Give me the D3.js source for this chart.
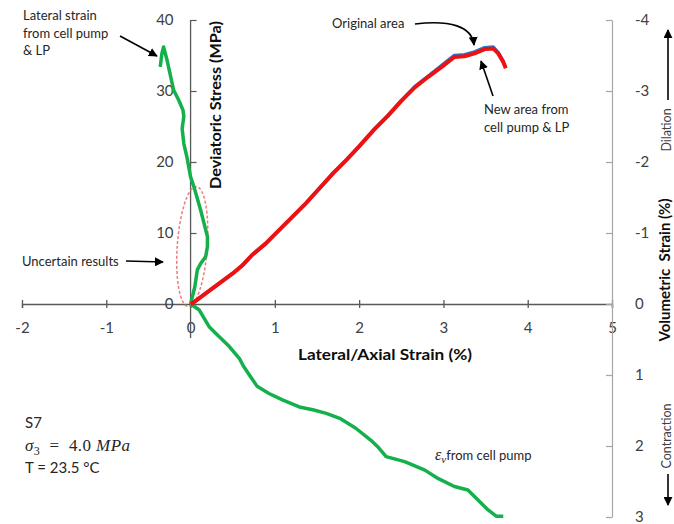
<!DOCTYPE html>
<html>
<head>
<meta charset="utf-8">
<script src="https://cdn.jsdelivr.net/npm/d3@7"></script>
<style>
  html, body { margin: 0; padding: 0; background: #fff; }
  svg { display: block; font-family: Lato, "Open Sans", sans-serif; }
  .tick text { font-family: Lato, sans-serif; font-size: 15px; fill: #404040; }
  .ann { font-size: 13px; fill: #262626; }
</style>
</head>
<body>
<svg id="chart" width="674" height="524"></svg>
<script>
// Triaxial test S7: deviatoric stress vs lateral / axial strain, with volumetric strain
const xTicks = [-2, -1, 0, 1, 2, 3, 4, 5];
const stressTicks = [0, 10, 20, 30, 40];
const volTicks = [-4, -3, -2, -1, 0, 1, 2, 3];

// Axial strain (%) and deviatoric stress (MPa), new area from cell pump & LP
const axialNew  = [0, 0.02, 0.18, 0.34, 0.50, 0.62, 0.73, 0.89, 1.05, 1.21, 1.37, 1.53, 1.69, 1.85, 2.00, 2.18, 2.34, 2.50, 2.66, 2.82, 2.98, 3.13, 3.25, 3.37, 3.49, 3.59, 3.65, 3.71, 3.74];
const stressNew = [0, 0.1, 1.5, 2.9, 4.3, 5.5, 6.9, 8.5, 10.4, 12.3, 14.2, 16.3, 18.4, 20.3, 22.2, 24.6, 26.5, 28.6, 30.5, 32.0, 33.4, 34.8, 34.9, 35.3, 35.9, 36.0, 35.3, 34.1, 33.2];

// Same test, stress computed with the original area
const axialOrig  = [0, 0.02, 0.18, 0.34, 0.50, 0.62, 0.73, 0.89, 1.05, 1.21, 1.37, 1.53, 1.69, 1.85, 2.00, 2.18, 2.34, 2.50, 2.66, 2.82, 2.98, 3.13, 3.25, 3.37, 3.49, 3.59, 3.65, 3.71];
const stressOrig = [0, 0.1, 1.5, 2.9, 4.3, 5.5, 6.9, 8.5, 10.4, 12.3, 14.2, 16.3, 18.4, 20.3, 22.2, 24.6, 26.5, 28.6, 30.6, 32.1, 33.6, 35.0, 35.1, 35.5, 36.1, 36.2, 35.4, 34.1];

// Lateral strain (%) from cell pump & LP vs deviatoric stress (MPa)
const lateralStrain = [0, 0.05, 0.08, 0.12, 0.18, 0.20, 0.20, 0.18, 0.12, 0.04, 0, -0.04, -0.08, -0.10, -0.08, -0.09, -0.14, -0.20, -0.28, -0.32, -0.34, -0.36];
const lateralStress = [0, 2.4, 4.8, 5.7, 6.7, 8.1, 9.5, 10.4, 13.2, 16.5, 17.9, 20.5, 22.6, 24.7, 26.4, 27.3, 28.7, 30.1, 34.4, 36.2, 35.3, 33.4];

// Volumetric strain (%) from cell pump vs axial strain (%)
const volAxial  = [0, 0.10, 0.22, 0.34, 0.46, 0.58, 0.63, 0.71, 0.79, 0.93, 1.09, 1.29, 1.45, 1.61, 1.77, 1.96, 2.14, 2.22, 2.32, 2.54, 2.78, 2.94, 3.13, 3.29, 3.41, 3.53, 3.63, 3.71];
const volStrain = [0, 0.08, 0.32, 0.46, 0.60, 0.77, 0.88, 1.02, 1.16, 1.26, 1.35, 1.45, 1.49, 1.54, 1.61, 1.75, 1.92, 2.01, 2.15, 2.22, 2.34, 2.46, 2.57, 2.62, 2.76, 2.90, 2.99, 2.99];

const svg = d3.select("#chart");

const x  = d3.scaleLinear().domain([-2, 5]).range([22, 612]);
const yL = d3.scaleLinear().domain([0, 40]).range([304, 20]);
const yR = d3.scaleLinear().domain([-4, 3]).range([20, 517]);

// ---- axes ----
const xAxis = svg.append("g")
  .attr("transform", `translate(0,${yL(0)})`)
  .call(d3.axisBottom(x).tickValues(xTicks).tickFormat(d => String(d)).tickSizeOuter(0).tickSize(4).tickPadding(14));
xAxis.select(".domain").attr("stroke", "#595959").attr("stroke-width", 1.3);
xAxis.selectAll(".tick line").attr("y1", -4).attr("y2", 4).attr("stroke", "#595959").attr("stroke-width", 1.3);

const leftAxis = svg.append("g")
  .attr("transform", `translate(${x(0)},0)`)
  .call(d3.axisLeft(yL).tickValues(stressTicks).tickFormat(d => String(d)).tickSizeOuter(0).tickSizeInner(-6).tickPadding(17));
leftAxis.select(".domain").remove();
leftAxis.selectAll(".tick line").attr("stroke", "#595959").attr("stroke-width", 1.2);
// vertical line of the stress axis, running a little past the strain axis
leftAxis.append("line").attr("x1", 0).attr("x2", 0).attr("y1", yL(40)).attr("y2", yL(0) + 34)
  .attr("stroke", "#595959").attr("stroke-width", 1.3);

const rightAxis = svg.append("g")
  .attr("transform", `translate(${x(5)},0)`)
  .call(d3.axisRight(yR).tickValues(volTicks).tickFormat(d => String(d)).tickSizeOuter(0).tickSizeInner(-6).tickPadding(23));
rightAxis.select(".domain").attr("stroke", "#a6a6a6").attr("stroke-width", 1.2);
rightAxis.selectAll(".tick line").attr("stroke", "#a6a6a6").attr("stroke-width", 1.2);

// ---- axis titles ----
svg.append("text").attr("transform", "translate(221,105) rotate(-90)")
  .attr("text-anchor", "middle").attr("font-weight", "bold").attr("font-size", 16).attr("fill", "#0d0d0d")
  .attr("textLength", 168).attr("lengthAdjust", "spacingAndGlyphs")
  .text("Deviatoric Stress (MPa)");
svg.append("text").attr("x", 385).attr("y", 360)
  .attr("text-anchor", "middle").attr("font-weight", "bold").attr("font-size", 16).attr("fill", "#0d0d0d")
  .attr("textLength", 174).attr("lengthAdjust", "spacingAndGlyphs")
  .text("Lateral/Axial Strain (%)");
svg.append("text").attr("transform", "translate(665,270) rotate(-90)")
  .attr("text-anchor", "middle").attr("dy", "0.35em").attr("font-weight", "bold").attr("font-size", 15).attr("fill", "#0d0d0d")
  .attr("xml:space", "preserve")
  .text("Volumetric  Strain (%)");
svg.append("text").attr("transform", "translate(667,130) rotate(-90)")
  .attr("text-anchor", "middle").attr("dy", "0.35em").attr("font-size", 12.5).attr("fill", "#404040").text("Dilation");
svg.append("text").attr("transform", "translate(667,436) rotate(-90)")
  .attr("text-anchor", "middle").attr("dy", "0.35em").attr("font-size", 12.5).attr("fill", "#404040").text("Contraction");

// ---- arrow marker ----
const defs = svg.append("defs");
defs.append("marker").attr("id", "head").attr("viewBox", "0 0 10 10")
  .attr("refX", 9).attr("refY", 5).attr("markerWidth", 9).attr("markerHeight", 9)
  .attr("markerUnits", "userSpaceOnUse").attr("orient", "auto")
  .append("path").attr("d", "M0,0 L10,5 L0,10 Z").attr("fill", "#000");

function arrow(d) {
  svg.append("path").attr("d", d).attr("fill", "none").attr("stroke", "#000")
    .attr("stroke-width", 1.6).attr("marker-end", "url(#head)");
}
arrow("M668,100 L668,30");
arrow("M668,474 L668,505");

// ---- data lines ----
const line = (xs, ys, ysc, xsc) => d3.line().x((d, i) => xsc(xs[i])).y((d, i) => ysc(ys[i]))(xs);

// uncertain region ellipse
svg.append("ellipse").attr("cx", 0).attr("cy", 0).attr("rx", 15).attr("ry", 60)
  .attr("transform", `translate(${x(0.02)},${yL(8.1)}) rotate(4)`)
  .attr("fill", "none").attr("stroke", "#ee7b7b").attr("stroke-width", 1.5).attr("stroke-dasharray", "3,2");

svg.append("path").attr("d", line(volAxial, volStrain, yR, x))
  .attr("fill", "none").attr("stroke", "#13b04b").attr("stroke-width", 3.5).attr("stroke-linejoin", "round");
svg.append("path").attr("d", line(lateralStrain, lateralStress, yL, x))
  .attr("fill", "none").attr("stroke", "#13b04b").attr("stroke-width", 3.5).attr("stroke-linejoin", "round");
svg.append("path").attr("d", line(axialOrig, stressOrig, yL, x))
  .attr("fill", "none").attr("stroke", "#1f7fd6").attr("stroke-width", 3.5).attr("stroke-linejoin", "round");
svg.append("path").attr("d", line(axialNew, stressNew, yL, x))
  .attr("fill", "none").attr("stroke", "#ee1111").attr("stroke-width", 4).attr("stroke-linejoin", "round");

// ---- annotations ----
function label(x0, y0, lines) {
  const t = svg.append("text").attr("class", "ann").attr("x", x0).attr("y", y0);
  lines.forEach((s, i) => t.append("tspan").attr("x", x0).attr("dy", i ? 17.5 : 0).text(s));
}
label(23, 20, ["Lateral strain", "from cell pump", "& LP"]);
arrow("M120,36 L157,56");

label(332, 28, ["Original area"]);
arrow("M415,24 C450,20 472,26 474,45");

label(484, 114, ["New area from", "cell pump & LP"]);
arrow("M493,96 L481,61");

label(22, 266, ["Uncertain results"]);
arrow("M126,261 L163,262");

// test conditions
svg.append("text").attr("x", 25).attr("y", 428).attr("font-size", 15).attr("fill", "#262626").text("S7");
const sig = svg.append("text").attr("x", 25).attr("y", 451).attr("font-size", 17).attr("fill", "#262626")
  .attr("font-family", "'Liberation Serif', 'DejaVu Serif', serif").attr("xml:space", "preserve")
  .attr("textLength", 105).attr("lengthAdjust", "spacing");
sig.append("tspan").attr("font-style", "italic").text("σ");
sig.append("tspan").attr("font-size", 12).attr("dy", 4).text("3");
sig.append("tspan").attr("dy", -4).text("  =  4.0 ");
sig.append("tspan").attr("font-style", "italic").text("MPa");
svg.append("text").attr("x", 25).attr("y", 473).attr("font-size", 15).attr("fill", "#262626").text("T = 23.5 °C");

const ev = svg.append("text").attr("x", 435).attr("y", 460).attr("class", "ann").attr("font-size", 13.5);
ev.append("tspan").attr("font-family", "'Liberation Serif', serif").attr("font-style", "italic").attr("font-size", 16).text("ε");
ev.append("tspan").attr("font-family", "'Liberation Serif', serif").attr("font-style", "italic").attr("font-size", 11).attr("dy", 3).text("v");
ev.append("tspan").attr("dy", -3).text("from cell pump");
</script>
</body>
</html>
